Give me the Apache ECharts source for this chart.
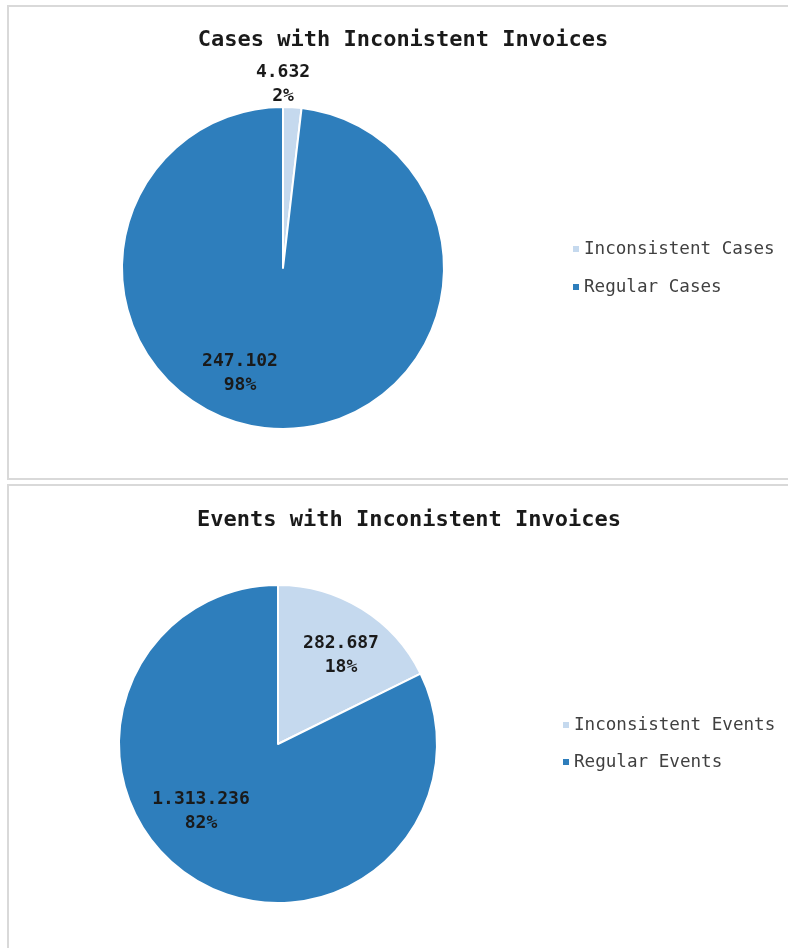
<!DOCTYPE html>
<html>
<head>
<meta charset="utf-8">
<script src="https://cdn.jsdelivr.net/npm/echarts@6/dist/echarts.min.js"></script>
<style>
html,body{margin:0;padding:0;background:#fff;}
#c{width:788px;height:948px;}
</style>
</head>
<body>
<div id="c"></div>
<script>
var casesTitle = 'Cases with Inconistent Invoices';
var casesCategories = ['Inconsistent Cases', 'Regular Cases'];
var casesValues = [4632, 247102];

var eventsTitle = 'Events with Inconistent Invoices';
var eventsCategories = ['Inconsistent Events', 'Regular Events'];
var eventsValues = [282687, 1313236];

var sliceColors = ['#C5D9EE', '#2E7EBC'];
var FONT = '"DejaVu Sans Mono", "Liberation Mono", monospace';

// label offsets (px) from pie centre, layout only
var casesLabelOffsets = [[0, -184], [-43, 105]];
var eventsLabelOffsets = [[63, -89], [-77, 67]];

function fmt(v) {
  return String(v).replace(/\B(?=(\d{3})+(?!\d))/g, '.');
}

function buildData(cats, vals) {
  return cats.map(function (c, i) {
    return { name: c, value: vals[i], itemStyle: { color: sliceColors[i] } };
  });
}

var centers = [[283, 268], [278, 744]];
var offsets = [casesLabelOffsets, eventsLabelOffsets];

function pieSeries(idx, cats, vals, radius) {
  return {
    type: 'pie',
    center: centers[idx],
    radius: radius,
    startAngle: 90,
    clockwise: true,
    avoidLabelOverlap: false,
    itemStyle: { borderColor: '#ffffff', borderWidth: 2 },
    label: {
      show: true,
      position: 'inside',
      formatter: function (p) { return fmt(p.value) + '\n' + Math.round(p.percent) + '%'; },
      fontFamily: FONT,
      fontWeight: 'bold',
      fontSize: 18,
      lineHeight: 24,
      color: '#1a1a1a',
      align: 'center',
      verticalAlign: 'middle'
    },
    labelLine: { show: false },
    labelLayout: function (p) {
      var o = offsets[idx][p.dataIndex];
      return { x: centers[idx][0] + o[0], y: centers[idx][1] + o[1], align: 'center', verticalAlign: 'middle' };
    },
    emphasis: { disabled: true },
    data: buildData(cats, vals)
  };
}

var chart = echarts.init(document.getElementById('c'), null, { renderer: 'canvas' });
chart.setOption({
  animation: false,
  backgroundColor: '#ffffff',
  graphic: [
    { type: 'rect', shape: { x: 8, y: 6, width: 800, height: 473 }, style: { fill: 'none', stroke: '#d9d9d9', lineWidth: 2 } },
    { type: 'rect', shape: { x: 8, y: 485, width: 800, height: 480 }, style: { fill: 'none', stroke: '#d9d9d9', lineWidth: 2 } }
  ],
  title: [
    { text: casesTitle, left: 398, top: 24, textAlign: 'center',
      textStyle: { fontFamily: FONT, fontWeight: 'bold', fontSize: 22, color: '#1a1a1a' } },
    { text: eventsTitle, left: 404, top: 504, textAlign: 'center',
      textStyle: { fontFamily: FONT, fontWeight: 'bold', fontSize: 22, color: '#1a1a1a' } }
  ],
  legend: [
    { seriesIndex: 0, data: casesCategories, orient: 'vertical', left: 566, top: 234,
      icon: 'rect', itemWidth: 8, itemHeight: 8, itemGap: 18, selectedMode: false,
      textStyle: { fontFamily: FONT, fontSize: 17.6, color: '#404040', lineHeight: 20, padding: [0, 0, 0, -1] } },
    { seriesIndex: 1, data: eventsCategories, orient: 'vertical', left: 556, top: 710,
      icon: 'rect', itemWidth: 8, itemHeight: 8, itemGap: 17, selectedMode: false,
      textStyle: { fontFamily: FONT, fontSize: 17.6, color: '#404040', lineHeight: 20, padding: [0, 0, 0, -1] } }
  ],
  series: [
    pieSeries(0, casesCategories, casesValues, 161),
    pieSeries(1, eventsCategories, eventsValues, 159)
  ]
});
</script>
</body>
</html>
